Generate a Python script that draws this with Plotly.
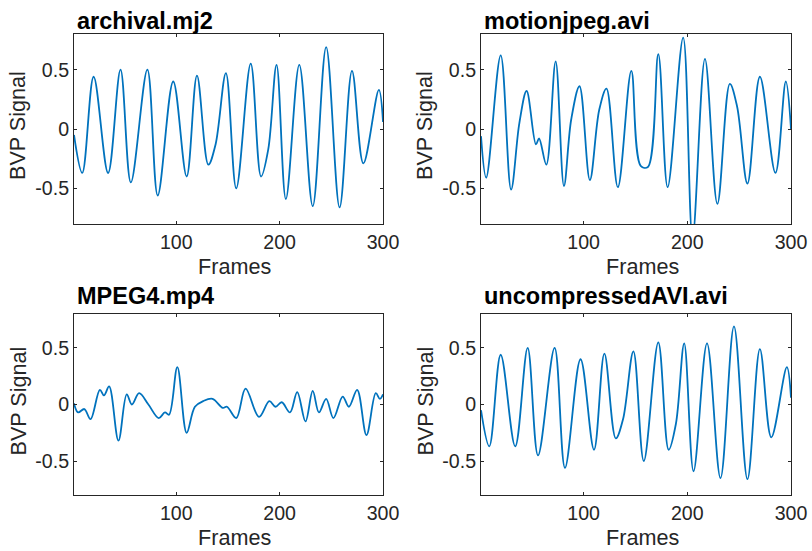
import plotly.graph_objects as go

# ---------------- data ----------------
titles = ["archival.mj2", "motionjpeg.avi", "MPEG4.mp4", "uncompressedAVI.avi"]

archival_frames = [1, 9, 20, 34, 46, 56, 72, 82, 97, 110, 120, 131, 138, 148, 158,
                   172, 182, 189, 197, 206, 219, 232, 245, 258, 270, 281, 296, 300]
archival_bvp = [-0.05, -0.37, 0.44, -0.37, 0.50, -0.45, 0.50, -0.56, 0.40, -0.40, 0.45,
                -0.30, -0.13, 0.47, -0.50, 0.55, -0.40, -0.17, 0.54, -0.59, 0.54,
                -0.65, 0.69, -0.66, 0.49, -0.29, 0.33, 0.06]

motionjpeg_frames = [1, 6, 20, 30, 38, 45, 54, 57, 64, 73, 81, 88, 96, 106, 115, 122,
                     133, 146, 155, 162, 172, 181, 196, 205, 217, 229, 241, 248, 258,
                     270, 285, 295, 300]
motionjpeg_bvp = [-0.06, -0.41, 0.62, -0.51, 0.05, 0.32, -0.13, -0.08, -0.30, 0.57,
                  -0.48, 0.08, 0.36, -0.43, 0.16, 0.34, -0.49, 0.49, -0.31, -0.32,
                  0.63, -0.49, 0.77, -0.92, 0.59, -0.63, 0.38, 0.19, -0.46, 0.44,
                  -0.37, 0.40, 0.0]

mpeg4_frames = [1, 5, 11, 17, 26, 30, 35, 44, 52, 57, 64, 73, 83, 89, 93, 101, 110,
                118, 126, 135, 145, 149, 158, 167, 180, 190, 196, 202, 210, 217, 225,
                232, 238, 245, 252, 261, 267, 275, 284, 293, 297, 300]
mpeg4_bvp = [0.01, -0.07, -0.04, -0.13, 0.13, 0.08, 0.16, -0.32, 0.09, 0.0, 0.10, 0.0,
             -0.12, -0.07, -0.09, 0.33, -0.25, -0.02, 0.03, 0.05, -0.03, -0.02, -0.12,
             0.14, -0.11, 0.03, -0.02, 0.02, -0.07, 0.11, -0.15, 0.12, -0.07, 0.05,
             -0.12, 0.07, -0.02, 0.13, -0.27, 0.10, 0.05, 0.09]

uncompressed_frames = [1, 9, 20, 34, 46, 56, 72, 82, 97, 110, 120, 131, 138, 148, 158,
                       172, 182, 189, 197, 206, 219, 232, 245, 258, 270, 281, 296, 300]
uncompressed_bvp = [-0.05, -0.37, 0.44, -0.37, 0.50, -0.45, 0.50, -0.56, 0.40, -0.40,
                    0.45, -0.30, -0.13, 0.47, -0.50, 0.55, -0.40, -0.17, 0.54, -0.59,
                    0.54, -0.65, 0.69, -0.66, 0.49, -0.29, 0.33, 0.06]

x_tick_vals = [100, 200, 300]
x_tick_text = ["100", "200", "300"]
y_tick_vals = [-0.5, 0, 0.5]
y_tick_text = ["-0.5", "0", "0.5"]
x_label = "Frames"
y_label = "BVP Signal"

series = [
    (archival_frames, archival_bvp),
    (motionjpeg_frames, motionjpeg_bvp),
    (mpeg4_frames, mpeg4_bvp),
    (uncompressed_frames, uncompressed_bvp),
]

# ---------------- layout ----------------
W, H = 812, 551
FONT = "Liberation Sans, Arial, Helvetica, sans-serif"
AX = "#262626"
LINE = "#0072BD"

# pixel boxes (left, right, top, bottom)
boxes = [(74, 383, 34, 224), (481, 791, 34, 224),
         (74, 383, 314, 495), (481, 791, 314, 495)]

fig = go.Figure()
annotations = []
for i, ((fr, vals), (l, r, t, b), title) in enumerate(zip(series, boxes, titles)):
    n = "" if i == 0 else str(i + 1)
    fig.add_trace(go.Scatter(
        x=fr, y=vals, mode="lines",
        line=dict(color=LINE, width=1.8, shape="spline", smoothing=1.0),
        xaxis="x" + n, yaxis="y" + n, showlegend=False, hoverinfo="skip"))
    common = dict(ticks="inside", ticklen=3, tickwidth=1, tickcolor=AX,
                  showline=True, linecolor=AX, linewidth=1, mirror="ticks",
                  showgrid=False, zeroline=False,
                  tickfont=dict(family=FONT, size=19.6, color=AX))
    fig.layout["xaxis" + n] = dict(
        domain=[l / W, r / W], range=[1, 300], anchor="y" + n,
        tickmode="array", tickvals=x_tick_vals, ticktext=x_tick_text, **common)
    fig.layout["yaxis" + n] = dict(
        domain=[1 - b / H, 1 - t / H], range=[-0.8, 0.8], anchor="x" + n,
        tickmode="array", tickvals=y_tick_vals, ticktext=y_tick_text, **common)
    # title
    annotations.append(dict(
        text="<b>" + title + "</b>", xref="paper", yref="paper",
        x=(l + 1) / W, y=1 - (21 + (t - 34) * 0.982) / H, xanchor="left", yanchor="middle",
        showarrow=False, font=dict(family=FONT, size=23.5, color="#000000")))
    # x label
    annotations.append(dict(
        text=x_label, xref="paper", yref="paper",
        x=((l + r) / 2 + 6) / W, y=1 - (b + 42) / H, xanchor="center", yanchor="middle",
        showarrow=False, font=dict(family=FONT, size=21.6, color=AX)))
    # y label
    annotations.append(dict(
        text=y_label, xref="paper", yref="paper", textangle=-90,
        x=(l - 56) / W, y=1 - ((t + b) / 2 - 3) / H, xanchor="center", yanchor="middle",
        showarrow=False, font=dict(family=FONT, size=21.6, color=AX)))

fig.update_layout(
    width=W, height=H, margin=dict(l=0, r=0, t=0, b=0, autoexpand=False),
    paper_bgcolor="white", plot_bgcolor="white",
    annotations=annotations)

fig.write_html(
    "out.html",
    config={"responsive": False},
    post_script="document.body.style.margin='0';document.body.style.overflow='hidden';",
)
